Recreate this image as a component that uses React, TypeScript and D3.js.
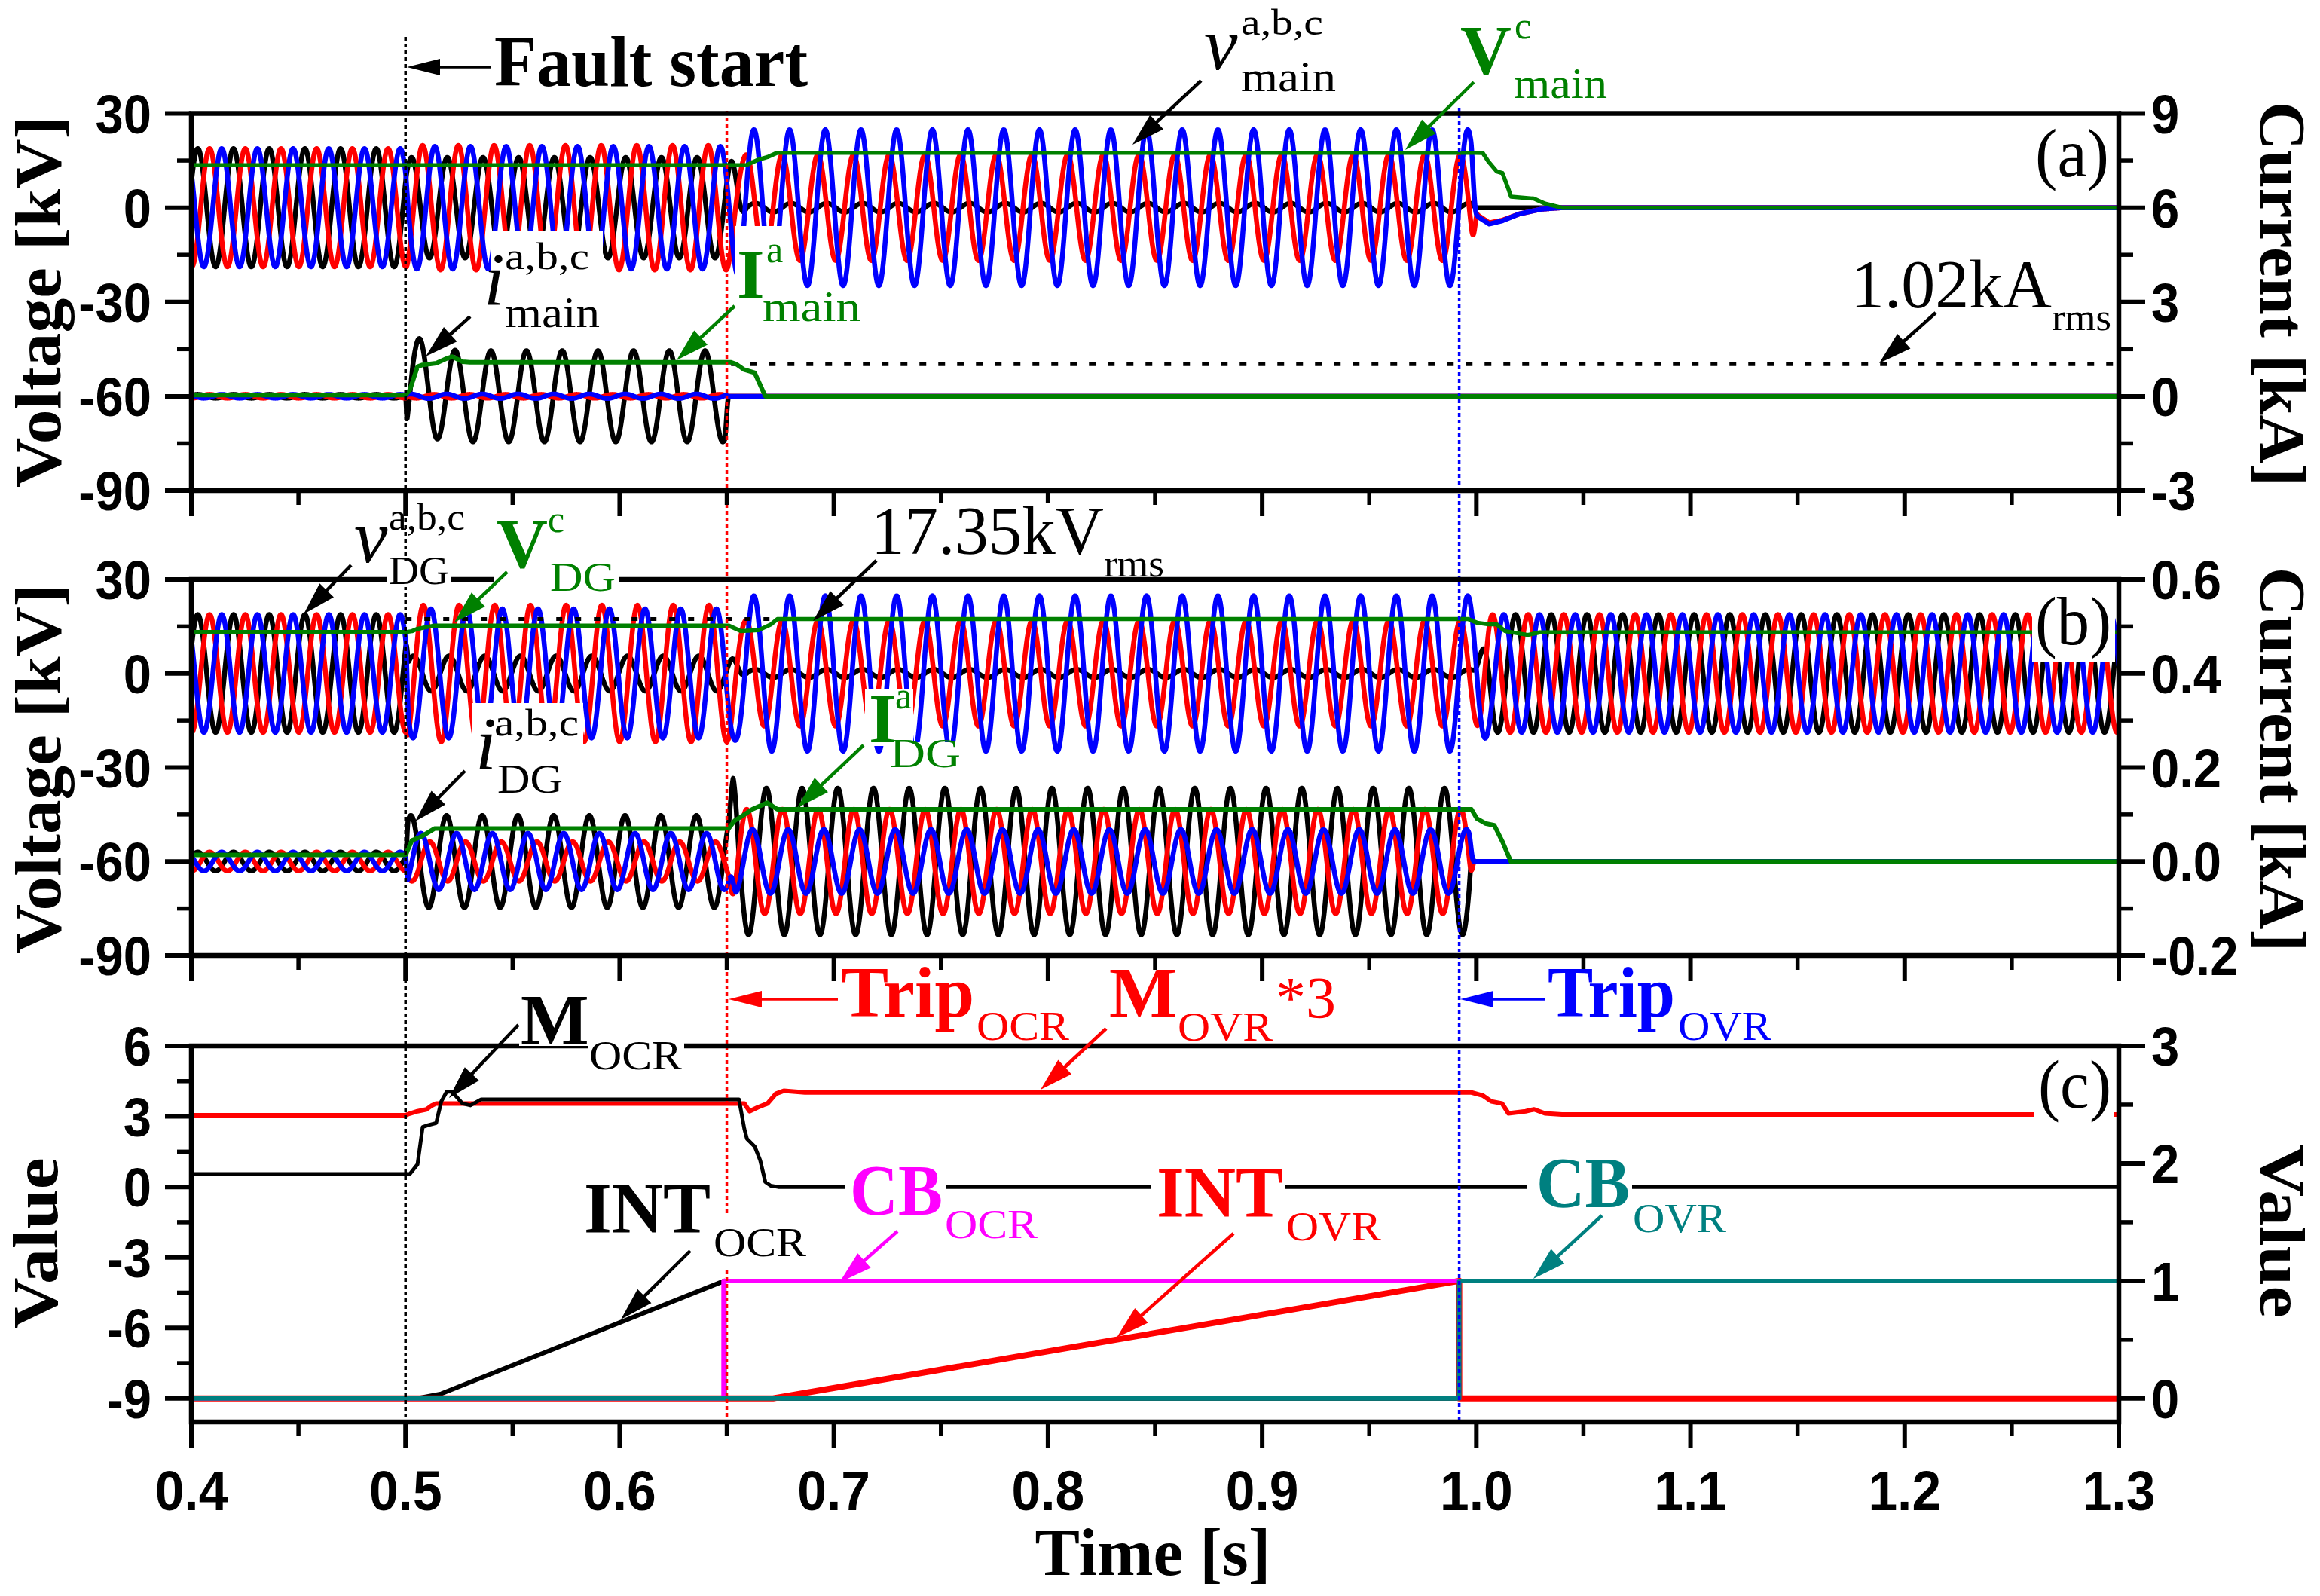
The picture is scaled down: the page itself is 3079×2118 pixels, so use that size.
import React from 'react';
import * as d3 from 'd3';

// ---------------- DATA ----------------
const FREQ = 60; // Hz
const T_START = 0.4;
const T_END = 1.3;
const DT = 0.0001;

// time ticks
const xMajor = [0.4, 0.5, 0.6, 0.7, 0.8, 0.9, 1.0, 1.1, 1.2, 1.3];
const xMinor = [0.45, 0.55, 0.65, 0.75, 0.85, 0.95, 1.05, 1.15, 1.25];
// y ticks
const vMajor = [-90, -60, -30, 0, 30];
const vMinor = [-75, -45, -15, 15];
const aRightMajor = [-3, 0, 3, 6, 9];
const aRightMinor = [-1.5, 1.5, 4.5, 7.5];
const bRightMajor = [-0.2, 0, 0.2, 0.4, 0.6];
const bRightMinor = [-0.1, 0.1, 0.3, 0.5];
const cLeftMajor = [-9, -6, -3, 0, 3, 6];
const cLeftMinor = [-7.5, -4.5, -1.5, 1.5, 4.5];
const cRightMajor = [0, 1, 2, 3];
const cRightMinor = [0.5, 1.5, 2.5];

// event times: fault start, OCR trip, OVR trip
const eventTimes = [0.5, 0.65, 0.992];

// segments: [pre-fault, fault, after OCR trip, after OVR trip]
// (a) main voltages, kV amplitude and peak position (fraction of a 60 Hz cycle)
const vMainAmpA = [18.8, 16.0, 1.4, 0];
const vMainAmpB = [18.8, 19.8, 16.8, 0];
const vMainAmpC = [18.8, 19.5, 24.8, 0];
const vMainPeakA = [0.18, 0.17, 0.8, 0];
const vMainPeakB = [0.51, 0.48, 0.55, 0];
const vMainPeakC = [0.85, 0.82, 0.76, 0];
const vMainTrans = [[0.5, 0.5015], [0.651, 0.66], [0.9975, 1.0005]];
const vMainTailB = [[0.9975, 0], [1.001, -2.5], [1.006, -4.8], [1.012, -4.0], [1.02, -2.0], [1.03, -0.5], [1.04, 0]];
const vMainTailC = [[0.9975, 0], [1.001, -3.0], [1.006, -5.2], [1.012, -4.2], [1.02, -2.0], [1.03, -0.5], [1.04, 0]];

// (a) main currents, kA
const iMainAmpA = [0.06, 1.45, 0, 0];
const iMainAmpB = [0.06, 0.06, 0, 0];
const iMainAmpC = [0.06, 0.07, 0, 0];
const iMainPeakA = [0.18, 0.39, 0, 0];
const iMainPeakB = [0.51, 0.8, 0, 0];
const iMainPeakC = [0.85, 0.15, 0, 0];
const iMainTrans = [[0.5, 0.5008], [0.649, 0.651], [0.99, 0.991]];
const iMainOffsetA = [[0.5, 0], [0.5035, 0.42], [0.507, 0.38], [0.514, 0.1], [0.525, 0]];

// (b) DG voltages, kV
const vDgAmpA = [18.8, 5.6, 1.3, 18.8];
const vDgAmpB = [18.8, 21.8, 16.8, 18.8];
const vDgAmpC = [18.8, 20.6, 24.8, 18.8];
const vDgPeakA = [0.18, 0.22, 0.8, 0.1];
const vDgPeakB = [0.51, 0.5, 0.55, 0.45];
const vDgPeakC = [0.85, 0.71, 0.76, 0.77];
const vDgTrans = [[0.5, 0.5015], [0.651, 0.66], [0.998, 1.008]];

// (b) DG currents, kA
const iDgAmpA = [0.02, 0.098, 0.156, 0];
const iDgAmpB = [0.02, 0.042, 0.111, 0];
const iDgAmpC = [0.02, 0.06, 0.068, 0];
const iDgPeakA = [0.18, 0.15, 0.11, 0];
const iDgPeakB = [0.51, 0.68, 0.56, 0];
const iDgPeakC = [0.85, 0.43, 0.72, 0];
const iDgTrans = [[0.5, 0.5012], [0.6505, 0.6545], [0.9965, 0.999]];
const iDgOffsetA = [[0.651, 0], [0.653, 0.05], [0.6555, 0]];

// rms traces (green)
const vMainRms = [[0.4, 13.5], [0.659, 13.5], [0.6648, 15.3], [0.669, 16.1], [0.6736, 17.5], [0.999, 17.5], [1.003, 17.4], [1.0056, 14.7], [1.0096, 11.5], [1.0122, 11.0], [1.0149, 6.1], [1.0162, 3.5], [1.0268, 2.9], [1.0321, 1.3], [1.04, 0], [1.3, 0]];
const iMainRms = [[0.4, 0.04], [0.5, 0.04], [0.502, 0.2], [0.5056, 0.94], [0.508, 1.0], [0.5143, 1.05], [0.5192, 1.2], [0.5217, 1.26], [0.5243, 1.18], [0.5266, 1.1], [0.53, 1.08], [0.652, 1.08], [0.6545, 1.02], [0.658, 0.85], [0.663, 0.75], [0.668, 0], [1.3, 0]];
const vDgRms = [[0.4, 13.2], [0.5, 13.2], [0.503, 13.5], [0.5053, 14.2], [0.5135, 15.3], [0.6508, 15.3], [0.6566, 13.5], [0.6648, 13.8], [0.6707, 15.7], [0.6736, 17.35], [0.9963, 17.35], [1.0003, 16.2], [1.0056, 15.7], [1.0094, 15.7], [1.0135, 13.5], [1.024, 12.3], [1.0295, 13.1], [1.3, 13.1]];
const iDgRms = [[0.4, 0.014], [0.5, 0.014], [0.503, 0.045], [0.507, 0.052], [0.5135, 0.07], [0.6508, 0.07], [0.6537, 0.087], [0.6566, 0.095], [0.6619, 0.111], [0.6689, 0.125], [0.6736, 0.111], [0.9977, 0.111], [1.0003, 0.091], [1.0042, 0.081], [1.0084, 0.077], [1.0123, 0.041], [1.0161, 0], [1.3, 0]];

// reference levels
const refIMain = 1.02; // kA rms
const refIMainSpan = [0.652, 1.3];
const refVDg = 17.35; // kV rms
const refVDgSpan = [0.5, 0.992];

// (c) relay signals
const mOcr = [[0.4, 0.55], [0.502, 0.55], [0.5056, 0.96], [0.508, 2.55], [0.5106, 2.63], [0.5143, 2.72], [0.5167, 3.64], [0.5192, 4.05], [0.5217, 4.05], [0.5266, 3.55], [0.5303, 3.47], [0.5352, 3.72], [0.6557, 3.72], [0.6582, 2.47], [0.6594, 2.05], [0.6631, 1.71], [0.6656, 1.13], [0.668, 0.21], [0.6705, 0.05], [0.674, 0], [1.3, 0]];
const mOvr3 = [[0.4, 3.05], [0.5, 3.05], [0.502, 3.12], [0.5056, 3.22], [0.5098, 3.3], [0.512, 3.45], [0.5143, 3.55], [0.6582, 3.55], [0.6606, 3.22], [0.6643, 3.38], [0.669, 3.55], [0.673, 3.97], [0.6766, 4.09], [0.6865, 4.02], [0.9977, 4.02], [1.003, 3.89], [1.007, 3.64], [1.012, 3.55], [1.015, 3.13], [1.023, 3.22], [1.027, 3.3], [1.032, 3.13], [1.04, 3.08], [1.3, 3.08]];
const intOcr = [[0.4, 0], [0.5056, 0], [0.5167, 0.04], [0.6488, 1.0], [0.6489, 0], [1.3, 0]];
const intOvr = [[0.4, 0], [0.6716, 0], [0.992, 1], [0.992, 0], [1.3, 0]];
const cbOcr = [[0.4, 0], [0.6485, 0], [0.6485, 1], [1.3, 1]];
const cbOvr = [[0.4, 0], [0.992, 0], [0.992, 1], [1.3, 1]];

// ---------------- STYLE / LAYOUT ----------------
const W = 3079;
const H = 2118;
const X0 = 254;
const X1 = 2812;
const SERIF = "'Liberation Serif','Times New Roman',Times,serif";
const SANS = "'Liberation Sans',Arial,Helvetica,sans-serif";
const BLACK = '#000000';
const RED = '#ff0000';
const BLUE = '#0000ff';
const GREEN = '#008000';
const MAGENTA = '#ff00ff';
const TEAL = '#008080';

const x = d3.scaleLinear().domain([T_START, T_END]).range([X0, X1]);
const yA = d3.scaleLinear().domain([-90, 30]).range([651, 150.5]);
const yAR = d3.scaleLinear().domain([-3, 9]).range([651, 150.5]);
const yB = d3.scaleLinear().domain([-90, 30]).range([1268, 769]);
const yBR = d3.scaleLinear().domain([-0.2, 0.6]).range([1268, 769]);
const yC = d3.scaleLinear().domain([-10, 6]).range([1887, 1388]);
const yCR = d3.scaleLinear().domain([-0.2, 3]).range([1887, 1388]);

function smoothstep(s: number) {
  return s * s * (3 - 2 * s);
}
function piecewise(br: number[][], t: number): number {
  const n = br.length;
  if (t <= br[0][0] || t >= br[n - 1][0]) return 0;
  for (let i = 0; i < n - 1; i++) {
    const [t0, v0] = br[i];
    const [t1, v1] = br[i + 1];
    if (t >= t0 && t <= t1) return t1 === t0 ? v1 : v0 + ((v1 - v0) * (t - t0)) / (t1 - t0);
  }
  return 0;
}
function waveAt(amp: number[], peak: number[], trans: number[][], t: number) {
  const seg = (k: number) => amp[k] * Math.cos(2 * Math.PI * (FREQ * t - peak[k]));
  for (let j = 0; j < trans.length; j++) {
    if (t < trans[j][0]) return seg(j);
    if (t < trans[j][1]) {
      const s = smoothstep((t - trans[j][0]) / (trans[j][1] - trans[j][0]));
      return seg(j) * (1 - s) + seg(j + 1) * s;
    }
  }
  return seg(trans.length);
}
const nSamples = Math.round((T_END - T_START) / DT);
const times = d3.range(nSamples + 1).map((i) => T_START + i * DT);
function buildWave(amp: number[], peak: number[], trans: number[][], extra?: number[][]) {
  return times.map((t) => [t, waveAt(amp, peak, trans, t) + (extra ? piecewise(extra, t) : 0)]);
}

function pathOf(data: number[][], ys: any) {
  return d3
    .line<number[]>()
    .x((d) => x(d[0]))
    .y((d) => ys(d[1]))(data) as string;
}

function Arrow({ x1, y1, x2, y2, color, lw = 4.5, hl = 44, hw = 13 }: any) {
  const dx = x2 - x1;
  const dy = y2 - y1;
  const L = Math.hypot(dx, dy);
  const ux = dx / L;
  const uy = dy / L;
  const bx = x2 - ux * hl;
  const by = y2 - uy * hl;
  const px = -uy;
  const py = ux;
  return (
    <g>
      <line x1={x1} y1={y1} x2={bx + ux * 4} y2={by + uy * 4} stroke={color} strokeWidth={lw} />
      <polygon points={`${x2},${y2} ${bx + px * hw},${by + py * hw} ${bx - px * hw},${by - py * hw}`} fill={color} />
    </g>
  );
}

function T({ x: tx, y: ty, s, fill = BLACK, bold = false, italic = false, len, anchor = 'start', children }: any) {
  return (
    <text
      x={tx}
      y={ty}
      fontSize={s}
      fontFamily={SERIF}
      fontWeight={bold ? 'bold' : 'normal'}
      fontStyle={italic ? 'italic' : 'normal'}
      fill={fill}
      textAnchor={anchor}
      textLength={len}
      lengthAdjust={len ? 'spacingAndGlyphs' : undefined}
    >
      {children}
    </text>
  );
}

function YAxis({ scale, major, minor, side, fmt }: any) {
  const ax = side === 'left' ? X0 : X1;
  const dir = side === 'left' ? -1 : 1;
  const lx = side === 'left' ? 201 : 2855;
  return (
    <g>
      {major.map((v: number, i: number) => (
        <line key={'M' + i} x1={ax} x2={ax + dir * 35} y1={scale(v)} y2={scale(v)} stroke={BLACK} strokeWidth={6} />
      ))}
      {minor.map((v: number, i: number) => (
        <line key={'m' + i} x1={ax} x2={ax + dir * 19} y1={scale(v)} y2={scale(v)} stroke={BLACK} strokeWidth={5.5} />
      ))}
      {major.map((v: number, i: number) => (
        <text
          key={'t' + i}
          transform={`translate(${lx},${scale(v) + 26}) scale(0.93,1)`}
          textAnchor={side === 'left' ? 'end' : 'start'}
          fontFamily={SANS}
          fontWeight="bold"
          fontSize={72}
          fill={BLACK}
        >
          {fmt(v)}
        </text>
      ))}
    </g>
  );
}

function XTicks({ bottom }: any) {
  return (
    <g>
      {xMajor.map((v, i) => (
        <line key={'M' + i} x1={x(v)} x2={x(v)} y1={bottom} y2={bottom + 34} stroke={BLACK} strokeWidth={6} />
      ))}
      {xMinor.map((v, i) => (
        <line key={'m' + i} x1={x(v)} x2={x(v)} y1={bottom} y2={bottom + 19} stroke={BLACK} strokeWidth={5.5} />
      ))}
    </g>
  );
}

const fmtInt = (v: number) => String(v);
const fmt1 = (v: number) => v.toFixed(1);

export default function App() {
  // waveforms
  const vmA = buildWave(vMainAmpA, vMainPeakA, vMainTrans);
  const vmB = buildWave(vMainAmpB, vMainPeakB, vMainTrans, vMainTailB);
  const vmC = buildWave(vMainAmpC, vMainPeakC, vMainTrans, vMainTailC);
  const imA = buildWave(iMainAmpA, iMainPeakA, iMainTrans, iMainOffsetA);
  const imB = buildWave(iMainAmpB, iMainPeakB, iMainTrans);
  const imC = buildWave(iMainAmpC, iMainPeakC, iMainTrans);
  const vdA = buildWave(vDgAmpA, vDgPeakA, vDgTrans);
  const vdB = buildWave(vDgAmpB, vDgPeakB, vDgTrans);
  const vdC = buildWave(vDgAmpC, vDgPeakC, vDgTrans);
  const idA = buildWave(iDgAmpA, iDgPeakA, iDgTrans, iDgOffsetA);
  const idB = buildWave(iDgAmpB, iDgPeakB, iDgTrans);
  const idC = buildWave(iDgAmpC, iDgPeakC, iDgTrans);

  const WL = 6.5; // wave line width
  const frame = (top: number, bottom: number) => (
    <rect x={X0} y={top} width={X1 - X0} height={bottom - top} fill="none" stroke={BLACK} strokeWidth={6.5} />
  );
  const white = (r: number[], k: string) => <rect key={k} x={r[0]} y={r[1]} width={r[2]} height={r[3]} fill="#ffffff" />;

  const whiteBoxes = [
    [652, 306, 148, 132],
    [976, 300, 64, 96],
    [1012, 392, 132, 38],
    [2698, 170, 110, 86],
    [514, 745, 84, 34],
    [656, 747, 166, 40],
    [1150, 668, 320, 70],
    [626, 933, 148, 80],
    [657, 1012, 92, 42],
    [1148, 915, 64, 75],
    [1180, 985, 98, 36],
    [2697, 792, 110, 86],
    [689, 1322, 92, 66],
    [780, 1380, 128, 42],
    [773, 1570, 172, 68],
    [945, 1612, 128, 72],
    [1121, 1546, 134, 68],
    [1528, 1548, 178, 68],
    [2026, 1538, 140, 66],
    [2700, 1406, 106, 86],
  ];

  const eventColors = [BLACK, RED, BLUE];
  const eventSpans = [[49, 1895], [147, 1890], [143, 1890]];

  return (
    <svg
      width={W}
      height={H}
      viewBox={`0 0 ${W} ${H}`}
      style={{ position: 'absolute', left: 0, top: 0, background: '#fff' }}
    >
      <rect x={0} y={0} width={W} height={H} fill="#fff" />
      <defs>
        <clipPath id="clipA">
          <rect x={X0} y={150.5} width={X1 - X0} height={500.5} />
        </clipPath>
        <clipPath id="clipB">
          <rect x={X0} y={769} width={X1 - X0} height={499} />
        </clipPath>
        <clipPath id="clipC">
          <rect x={X0} y={1388} width={X1 - X0} height={499} />
        </clipPath>
      </defs>

      {/* ---- panel (a) ---- */}
      <g clipPath="url(#clipA)" fill="none" strokeLinejoin="round">
        <path d={pathOf(vmA, yA)} stroke={BLACK} strokeWidth={WL} />
        <path d={pathOf(vmB, yA)} stroke={RED} strokeWidth={WL} />
        <path d={pathOf(vmC, yA)} stroke={BLUE} strokeWidth={WL} />
        <path d={pathOf(imA, yAR)} stroke={BLACK} strokeWidth={WL} />
        <path d={pathOf(imB, yAR)} stroke={RED} strokeWidth={WL} />
        <path d={pathOf(imC, yAR)} stroke={BLUE} strokeWidth={WL} />
        <line
          x1={x(refIMainSpan[0])}
          x2={x(refIMainSpan[1])}
          y1={yAR(refIMain)}
          y2={yAR(refIMain)}
          stroke={BLACK}
          strokeWidth={5}
          strokeDasharray="9 16"
        />
        <path d={pathOf(vMainRms, yA)} stroke={GREEN} strokeWidth={5.5} />
        <path d={pathOf(iMainRms, yAR)} stroke={GREEN} strokeWidth={6} />
      </g>

      {/* ---- panel (b) ---- */}
      <g clipPath="url(#clipB)" fill="none" strokeLinejoin="round">
        <path d={pathOf(vdA, yB)} stroke={BLACK} strokeWidth={WL} />
        <path d={pathOf(vdB, yB)} stroke={RED} strokeWidth={WL} />
        <path d={pathOf(vdC, yB)} stroke={BLUE} strokeWidth={WL} />
        <path d={pathOf(idA, yBR)} stroke={BLACK} strokeWidth={WL} />
        <path d={pathOf(idB, yBR)} stroke={RED} strokeWidth={WL} />
        <path d={pathOf(idC, yBR)} stroke={BLUE} strokeWidth={WL} />
        <line
          x1={x(refVDgSpan[0])}
          x2={x(refVDgSpan[1])}
          y1={yB(refVDg)}
          y2={yB(refVDg)}
          stroke={BLACK}
          strokeWidth={5}
          strokeDasharray="8 17"
        />
        <path d={pathOf(vDgRms, yB)} stroke={GREEN} strokeWidth={5.5} />
        <path d={pathOf(iDgRms, yBR)} stroke={GREEN} strokeWidth={6} />
      </g>

      {/* ---- panel (c) ---- */}
      <g clipPath="url(#clipC)" fill="none" strokeLinejoin="round">
        <path d={pathOf(mOvr3, yC)} stroke={RED} strokeWidth={6} />
        <path d={pathOf(mOcr, yC)} stroke={BLACK} strokeWidth={5} />
        <path d={pathOf(intOcr, yCR)} stroke={BLACK} strokeWidth={6} />
        <path d={pathOf(intOvr, yCR)} stroke={RED} strokeWidth={8} />
        <path d={pathOf(cbOcr, yCR)} stroke={MAGENTA} strokeWidth={6} />
        <path d={pathOf(cbOvr, yCR)} stroke={TEAL} strokeWidth={6} />
      </g>

      {/* event lines */}
      {eventTimes.map((t, i) => (
        <line
          key={'ev' + i}
          x1={x(t)}
          x2={x(t)}
          y1={eventSpans[i][0]}
          y2={eventSpans[i][1]}
          stroke={eventColors[i]}
          strokeWidth={3.5}
          strokeDasharray="5 4"
        />
      ))}

      {/* axes */}
      {frame(150.5, 651)}
      {frame(769, 1268)}
      {frame(1388, 1887)}
      <XTicks bottom={651} />
      <XTicks bottom={1268} />
      <XTicks bottom={1887} />
      <YAxis scale={yA} major={vMajor} minor={vMinor} side="left" fmt={fmtInt} />
      <YAxis scale={yAR} major={aRightMajor} minor={aRightMinor} side="right" fmt={fmtInt} />
      <YAxis scale={yB} major={vMajor} minor={vMinor} side="left" fmt={fmtInt} />
      <YAxis scale={yBR} major={bRightMajor} minor={bRightMinor} side="right" fmt={fmt1} />
      <YAxis scale={yC} major={cLeftMajor} minor={cLeftMinor} side="left" fmt={fmtInt} />
      <YAxis scale={yCR} major={cRightMajor} minor={cRightMinor} side="right" fmt={fmtInt} />
      {xMajor.map((v, i) => (
        <text
          key={'xl' + i}
          transform={`translate(${x(v)},2004) scale(0.94,1)`}
          textAnchor="middle"
          fontFamily={SANS}
          fontWeight="bold"
          fontSize={74}
        >
          {v.toFixed(1)}
        </text>
      ))}

      {/* axis titles */}
      <text transform="translate(80,400.5) rotate(-90)" textAnchor="middle" fontFamily={SERIF} fontWeight="bold" fontSize={87} textLength={493} lengthAdjust="spacingAndGlyphs">Voltage [kV]</text>
      <text transform="translate(80,1020.5) rotate(-90)" textAnchor="middle" fontFamily={SERIF} fontWeight="bold" fontSize={87} textLength={491} lengthAdjust="spacingAndGlyphs">Voltage [kV]</text>
      <text transform="translate(76,1650) rotate(-90)" textAnchor="middle" fontFamily={SERIF} fontWeight="bold" fontSize={84} textLength={227} lengthAdjust="spacingAndGlyphs">Value</text>
      <text transform="translate(3000,390) rotate(90)" textAnchor="middle" fontFamily={SERIF} fontWeight="bold" fontSize={87} textLength={511} lengthAdjust="spacingAndGlyphs">Current [kA]</text>
      <text transform="translate(3000,1008) rotate(90)" textAnchor="middle" fontFamily={SERIF} fontWeight="bold" fontSize={87} textLength={511} lengthAdjust="spacingAndGlyphs">Current [kA]</text>
      <text transform="translate(3000,1634) rotate(90)" textAnchor="middle" fontFamily={SERIF} fontWeight="bold" fontSize={84} textLength={230} lengthAdjust="spacingAndGlyphs">Value</text>
      <T x={1530} y={2090} s={88} bold anchor="middle" len={313}>Time [s]</T>

      {/* label backgrounds */}
      {whiteBoxes.map((r, i) => white(r, 'wb' + i))}

      {/* ---- annotations (a) ---- */}
      <Arrow x1={652} y1={89} x2={540} y2={89} color={BLACK} lw={3.5} hl={44} hw={11} />
      <T x={656} y={114} s={95} bold len={416}>Fault start</T>

      <T x={1598} y={92} s={100} italic>v</T>
      <T x={1647} y={46} s={48} len={109}>a,b,c</T>
      <T x={1647} y={121} s={56} len={126}>main</T>
      <Arrow x1={1594} y1={107} x2={1503} y2={192} color={BLACK} />

      <T x={1938} y={98} s={94} bold fill={GREEN}>V</T>
      <T x={2010} y={51} s={50} fill={GREEN}>c</T>
      <T x={2009} y={130} s={56} fill={GREEN} len={124}>main</T>
      <Arrow x1={1956} y1={109} x2={1865} y2={199} color={GREEN} />

      <T x={642} y={404} s={100} italic>i</T>
      <T x={670} y={357} s={50} len={112}>a,b,c</T>
      <T x={670} y={434} s={56} len={126}>main</T>
      <Arrow x1={624} y1={420} x2={565} y2={473} color={BLACK} />

      <T x={978} y={395} s={94} bold fill={GREEN}>I</T>
      <T x={1017} y={348} s={50} fill={GREEN}>a</T>
      <T x={1012} y={426} s={56} fill={GREEN} len={130}>main</T>
      <Arrow x1={975} y1={406} x2={898} y2={478} color={GREEN} />

      <T x={2456} y={408} s={92} len={267}>1.02kA</T>
      <T x={2723} y={438} s={50} len={79}>rms</T>
      <Arrow x1={2569} y1={415} x2={2494} y2={482} color={BLACK} />

      <T x={2701} y={234} s={90} len={98}>(a)</T>

      {/* ---- annotations (b) ---- */}
      <T x={470} y={746} s={100} italic>v</T>
      <T x={516} y={703} s={50} len={101}>a,b,c</T>
      <T x={516} y={775} s={53} len={80}>DG</T>
      <Arrow x1={466} y1={750} x2={403} y2={815} color={BLACK} />

      <T x={659} y={753} s={94} bold fill={GREEN}>V</T>
      <T x={727} y={706} s={50} fill={GREEN}>c</T>
      <T x={730} y={784} s={55} fill={GREEN} len={87}>DG</T>
      <Arrow x1={673} y1={759} x2={603} y2={826} color={GREEN} />

      <T x={1156} y={735} s={92} len={309}>17.35kV</T>
      <T x={1465} y={765} s={50} len={80}>rms</T>
      <Arrow x1={1163} y1={744} x2={1079} y2={824} color={BLACK} />

      <T x={631} y={1020} s={100} italic>i</T>
      <T x={656} y={976} s={50} len={112}>a,b,c</T>
      <T x={660} y={1052} s={55} len={87}>DG</T>
      <Arrow x1={617} y1={1023} x2={551} y2={1090} color={BLACK} />

      <T x={1153} y={985} s={94} bold fill={GREEN}>I</T>
      <T x={1188} y={940} s={50} fill={GREEN}>a</T>
      <T x={1181} y={1018} s={55} fill={GREEN} len={94}>DG</T>
      <Arrow x1={1146} y1={989} x2={1058} y2={1072} color={GREEN} />

      <T x={2701} y={855} s={90} len={101}>(b)</T>

      {/* ---- trip annotations ---- */}
      <Arrow x1={1112} y1={1326} x2={967} y2={1326} color={RED} lw={3.5} hl={44} hw={11} />
      <T x={1116} y={1349} s={96} bold fill={RED} len={177}>Trip</T>
      <T x={1296} y={1380} s={55} fill={RED} len={123}>OCR</T>

      <T x={1472} y={1350} s={96} bold fill={RED}>M</T>
      <T x={1563} y={1381} s={55} fill={RED} len={126}>OVR</T>
      <T x={1693} y={1350} s={78} fill={RED} len={80}>*3</T>
      <Arrow x1={1468} y1={1365} x2={1381} y2={1446} color={RED} />

      <Arrow x1={2050} y1={1326} x2={1938} y2={1326} color={BLUE} lw={3.5} hl={44} hw={11} />
      <T x={2054} y={1349} s={96} bold fill={BLUE} len={169}>Trip</T>
      <T x={2227} y={1380} s={55} fill={BLUE} len={124}>OVR</T>

      {/* ---- annotations (c) ---- */}
      <T x={691} y={1386} s={96} bold>M</T>
      <T x={782} y={1419} s={55} len={123}>OCR</T>
      <Arrow x1={688} y1={1360} x2={596} y2={1457} color={BLACK} />

      <T x={775} y={1636} s={96} bold len={168}>INT</T>
      <T x={947} y={1667} s={55} len={123}>OCR</T>
      <Arrow x1={916} y1={1660} x2={824} y2={1751} color={BLACK} />

      <T x={1128} y={1612} s={96} bold fill={MAGENTA} len={123}>CB</T>
      <T x={1254} y={1643} s={55} fill={MAGENTA} len={123}>OCR</T>
      <Arrow x1={1191} y1={1634} x2={1114} y2={1702} color={MAGENTA} />

      <T x={1535} y={1615} s={96} bold fill={RED} len={168}>INT</T>
      <T x={1707} y={1646} s={55} fill={RED} len={126}>OVR</T>
      <Arrow x1={1637} y1={1637} x2={1482} y2={1775} color={RED} />

      <T x={2039} y={1602} s={96} bold fill={TEAL} len={124}>CB</T>
      <T x={2167} y={1635} s={55} fill={TEAL} len={124}>OVR</T>
      <Arrow x1={2126} y1={1613} x2={2035} y2={1697} color={TEAL} />

      <T x={2705} y={1470} s={90} len={97}>(c)</T>
    </svg>
  );
}
